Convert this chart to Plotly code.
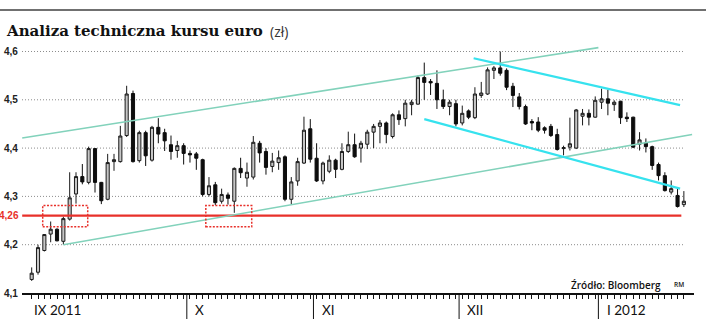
import plotly.graph_objects as go

# ---- data (EUR/PLN daily candles) ----
open_ = [4.128, 4.143, 4.188, 4.222, 4.232, 4.207, 4.253, 4.305, 4.341, 4.329,
         4.399, 4.329, 4.294, 4.372, 4.372, 4.426, 4.513, 4.374, 4.432, 4.375,
         4.443, 4.432, 4.407, 4.395, 4.405, 4.389, 4.388, 4.376, 4.304, 4.324,
         4.290, 4.303, 4.290, 4.358, 4.338, 4.340, 4.410, 4.393, 4.362, 4.370,
         4.382, 4.294, 4.332, 4.369, 4.440, 4.379, 4.332, 4.352, 4.375, 4.356,
         4.393, 4.407, 4.400, 4.408, 4.433, 4.445, 4.452, 4.424, 4.469, 4.461,
         4.490, 4.491, 4.546, 4.538, 4.534, 4.500, 4.486, 4.492, 4.452, 4.477,
         4.463, 4.509, 4.512, 4.561, 4.566, 4.561, 4.528, 4.506, 4.486, 4.455,
         4.454, 4.442, 4.445, 4.428, 4.399, 4.402, 4.400, 4.466, 4.472, 4.464,
         4.495, 4.502, 4.490, 4.497, 4.464, 4.464, 4.408, 4.410, 4.403, 4.366,
         4.343, 4.309, 4.302, 4.283]
high = [4.153, 4.200, 4.222, 4.248, 4.234, 4.258, 4.350, 4.350, 4.367, 4.403,
        4.400, 4.330, 4.388, 4.388, 4.446, 4.529, 4.519, 4.436, 4.436, 4.446,
        4.462, 4.440, 4.426, 4.415, 4.410, 4.395, 4.392, 4.378, 4.340, 4.330,
        4.316, 4.308, 4.360, 4.380, 4.370, 4.425, 4.415, 4.400, 4.390, 4.395,
        4.385, 4.340, 4.380, 4.465, 4.460, 4.410, 4.372, 4.385, 4.378, 4.410,
        4.434, 4.430, 4.415, 4.438, 4.450, 4.458, 4.455, 4.472, 4.478, 4.500,
        4.500, 4.550, 4.577, 4.543, 4.561, 4.521, 4.500, 4.500, 4.488, 4.480,
        4.526, 4.537, 4.567, 4.570, 4.600, 4.565, 4.535, 4.514, 4.490, 4.460,
        4.464, 4.445, 4.450, 4.440, 4.405, 4.463, 4.481, 4.481, 4.480, 4.507,
        4.523, 4.521, 4.499, 4.498, 4.474, 4.465, 4.433, 4.420, 4.405, 4.370,
        4.350, 4.333, 4.316, 4.311]
low = [4.125, 4.138, 4.186, 4.205, 4.207, 4.200, 4.250, 4.285, 4.325, 4.325,
       4.308, 4.284, 4.292, 4.353, 4.370, 4.423, 4.370, 4.370, 4.363, 4.372,
       4.410, 4.394, 4.376, 4.380, 4.366, 4.370, 4.355, 4.300, 4.300, 4.282,
       4.285, 4.283, 4.266, 4.338, 4.320, 4.335, 4.370, 4.345, 4.350, 4.355,
       4.290, 4.284, 4.322, 4.367, 4.370, 4.330, 4.325, 4.348, 4.338, 4.354,
       4.390, 4.380, 4.370, 4.398, 4.400, 4.410, 4.410, 4.420, 4.448, 4.445,
       4.468, 4.490, 4.500, 4.510, 4.481, 4.481, 4.468, 4.445, 4.447, 4.460,
       4.460, 4.504, 4.510, 4.543, 4.550, 4.520, 4.485, 4.480, 4.448, 4.437,
       4.433, 4.430, 4.423, 4.395, 4.385, 4.395, 4.398, 4.447, 4.447, 4.463,
       4.481, 4.468, 4.477, 4.450, 4.454, 4.400, 4.395, 4.391, 4.355, 4.333,
       4.310, 4.304, 4.277, 4.278]
close = [4.141, 4.194, 4.221, 4.232, 4.208, 4.254, 4.297, 4.341, 4.330, 4.399,
         4.329, 4.291, 4.370, 4.376, 4.425, 4.512, 4.372, 4.432, 4.384, 4.443,
         4.429, 4.415, 4.393, 4.405, 4.389, 4.386, 4.379, 4.304, 4.322, 4.287,
         4.304, 4.296, 4.358, 4.349, 4.350, 4.412, 4.390, 4.360, 4.373, 4.380,
         4.294, 4.330, 4.372, 4.437, 4.377, 4.332, 4.369, 4.375, 4.356, 4.393,
         4.407, 4.382, 4.410, 4.433, 4.445, 4.452, 4.428, 4.469, 4.459, 4.493,
         4.495, 4.546, 4.536, 4.535, 4.500, 4.486, 4.495, 4.450, 4.472, 4.464,
         4.512, 4.514, 4.562, 4.566, 4.555, 4.526, 4.509, 4.486, 4.450, 4.452,
         4.437, 4.437, 4.426, 4.397, 4.401, 4.409, 4.479, 4.472, 4.464, 4.499,
         4.502, 4.493, 4.495, 4.463, 4.461, 4.402, 4.417, 4.403, 4.364, 4.343,
         4.312, 4.316, 4.279, 4.290]
day_index = list(range(len(open_)))

month_labels = ["IX 2011", "X", "XI", "XII", "I 2012"]
month_starts = [-0.5, 25, 45, 68, 90]          # index of first session in month
y_ticks = [4.1, 4.2, 4.3, 4.4, 4.5, 4.6]
y_ticktext = ["4,1", "4,2", "4,3", "4,4", "4,5", "4,6"]
support_level = 4.26
support_label = "4,26"

# trend lines (x = session index, y = EUR/PLN)
teal_upper_x, teal_upper_y = [-1.5, 89.5], [4.421, 4.608]
teal_lower_x, teal_lower_y = [5.0, 104.3], [4.200, 4.428]
cyan_upper_x, cyan_upper_y = [69.8, 102.4], [4.586, 4.489]
cyan_lower_x, cyan_lower_y = [62.0, 102.4], [4.460, 4.316]
support_x = [-1.5, 102.6]
box1_x, box2_x = [1.74, 8.85], [27.5, 34.75]
box_y = [4.237, 4.281]

X0, X1 = -1.53, 104.6
Y0, Y1 = 4.1, 4.63
L, R, T, B = 22, 12, 37, 41
W, H = 706, 334
PW, PH = W - L - R, H - T - B

def px_to_paper_x(px):
    return (px - L) / PW

def px_to_paper_y(py):
    return (H - B - py) / PH

fig = go.Figure()

# grid lines
shapes = []
for v in y_ticks[1:]:
    shapes.append(dict(type="line", xref="x", yref="y", x0=X0, x1=103.0, y0=v, y1=v,
                       line=dict(color="#8c8c8c", width=1, dash="1px,2px"), layer="below"))
# red support dotted boxes
for bx in (box1_x, box2_x):
    shapes.append(dict(type="rect", xref="x", yref="y", x0=bx[0], x1=bx[1], y0=box_y[0], y1=box_y[1],
                       line=dict(color="#e8302a", width=1.5, dash="2px,1.5px"), layer="above"))
# month separators
for ms in month_starts[1:]:
    shapes.append(dict(type="line", xref="x", yref="paper", x0=ms - 0.5, x1=ms - 0.5,
                       y0=0, y1=px_to_paper_y(319), line=dict(color="#111", width=1)))
# top rule
shapes.append(dict(type="line", xref="paper", yref="paper", x0=px_to_paper_x(0), x1=px_to_paper_x(706),
                   y0=px_to_paper_y(10), y1=px_to_paper_y(10), line=dict(color="#707070", width=2)))

# support line
fig.add_trace(go.Scatter(x=support_x, y=[support_level, support_level], mode="lines",
                         line=dict(color="#e8302a", width=2.2), hoverinfo="skip"))
# trend lines
fig.add_trace(go.Scatter(x=teal_upper_x, y=teal_upper_y, mode="lines",
                         line=dict(color="#82d2bb", width=1.6), hoverinfo="skip"))
fig.add_trace(go.Scatter(x=teal_lower_x, y=teal_lower_y, mode="lines",
                         line=dict(color="#82d2bb", width=1.6), hoverinfo="skip"))
fig.add_trace(go.Scatter(x=cyan_upper_x, y=cyan_upper_y, mode="lines",
                         line=dict(color="#36e2ee", width=2.2), hoverinfo="skip"))
fig.add_trace(go.Scatter(x=cyan_lower_x, y=cyan_lower_y, mode="lines",
                         line=dict(color="#36e2ee", width=2.2), hoverinfo="skip"))

fig.add_trace(go.Candlestick(
    x=day_index, open=open_, high=high, low=low, close=close,
    increasing=dict(fillcolor="#c6c6c6", line=dict(color="#1a1a1a", width=1)),
    decreasing=dict(fillcolor="#0d0d0d", line=dict(color="#0d0d0d", width=1)),
    whiskerwidth=0, hoverinfo="skip"))

annotations = []
# y labels
for v, t in zip(y_ticks, y_ticktext):
    annotations.append(dict(text=t, xref="paper", yref="y", x=px_to_paper_x(20), y=v,
                            xanchor="right", yanchor="middle", showarrow=False,
                            font=dict(family="Liberation Sans", size=10, color="#222", weight="bold")))
annotations.append(dict(text=support_label, xref="paper", yref="y", x=px_to_paper_x(21), y=support_level,
                        xanchor="right", yanchor="middle", showarrow=False,
                        font=dict(family="Liberation Sans", size=10, color="#e8302a", weight="bold")))
# month labels
for lab, ms in zip(month_labels, month_starts):
    annotations.append(dict(text=lab, xref="x", yref="paper", x=ms + 0.5, y=px_to_paper_y(310),
                            xanchor="left", yanchor="middle", showarrow=False,
                            font=dict(family="Lato", size=13.5, color="#111")))
# title
annotations.append(dict(text="Analiza techniczna kursu euro", xref="paper", yref="paper",
                        x=px_to_paper_x(4), y=px_to_paper_y(31), xanchor="left", yanchor="middle",
                        showarrow=False, font=dict(family="DejaVu Serif", size=15, color="#111", weight="bold")))
annotations.append(dict(text="(zł)", xref="paper", yref="paper",
                        x=px_to_paper_x(268), y=px_to_paper_y(31), xanchor="left", yanchor="middle",
                        showarrow=False, font=dict(family="Open Sans", size=14, color="#333")))
# source
annotations.append(dict(text="Źródło: Bloomberg", xref="paper", yref="paper",
                        x=px_to_paper_x(663), y=px_to_paper_y(284.5), xanchor="right", yanchor="middle",
                        showarrow=False, font=dict(family="Open Sans", size=10, color="#111", weight=600)))
annotations.append(dict(text="RM", xref="paper", yref="paper",
                        x=px_to_paper_x(679), y=px_to_paper_y(284.5), xanchor="center", yanchor="middle",
                        showarrow=False, font=dict(family="Open Sans", size=6.5, color="#111", weight=600)))

fig.update_layout(
    width=W, height=H, margin=dict(l=L, r=R, t=T, b=B),
    paper_bgcolor="white", plot_bgcolor="white", showlegend=False,
    shapes=shapes, annotations=annotations,
    xaxis=dict(range=[X0, X1], showgrid=False, zeroline=False, showline=True, linecolor="#111",
               linewidth=2, ticks="outside", tickvals=day_index, ticklen=4, tickwidth=1,
               tickcolor="#111", showticklabels=False, rangeslider=dict(visible=False), fixedrange=True),
    yaxis=dict(range=[Y0, Y1], showgrid=False, zeroline=False, showline=False,
               showticklabels=False, fixedrange=True),
)

fig.write_html("out.html", config={"displayModeBar": False})
